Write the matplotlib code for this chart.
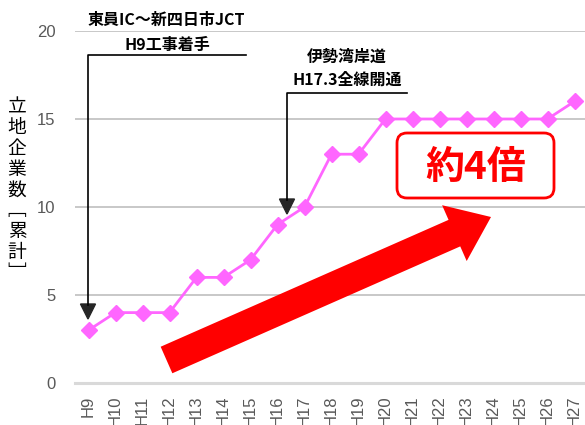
import matplotlib
matplotlib.use('Agg')
import matplotlib.pyplot as plt
from matplotlib.transforms import Affine2D
from matplotlib.patches import FancyArrow, FancyBboxPatch, Polygon

plt.rcParams['font.family'] = ['Liberation Sans', 'Noto Sans CJK JP', 'DejaVu Sans']

# data
years = ['H%d' % i for i in range(9, 28)]
firms = [3, 4, 4, 4, 6, 6, 7, 9, 10, 13, 13, 15, 15, 15, 15, 15, 15, 15, 16]
y_ticks = [0, 5, 10, 15, 20]

W, H = 585, 425
fig = plt.figure(figsize=(W / 100., H / 100.), dpi=100)
ax = fig.add_axes([75. / W, 1 - 383. / H, 513. / W, 352. / H])

# pixel coords with origin at top-left
tr = Affine2D().scale(1, -1).translate(0, H)

x = list(range(len(years)))
ax.plot(x, firms, color='#FF66FF', lw=2, marker='D', ms=8, zorder=3,
        clip_on=False)

ax.set_xlim(-0.5, len(years) - 0.5)
ax.set_ylim(0, 20)
ax.set_yticks(y_ticks)
ax.set_xticks(x)
ax.set_xticklabels(years, rotation=90)
ax.tick_params(axis='both', length=0, labelsize=12, labelcolor='#595959')
ax.tick_params(axis='y', pad=14)
ax.tick_params(axis='x', pad=9)
for s in ax.spines.values():
    s.set_visible(False)
for t in y_ticks[1:]:
    ax.axhline(t, color='#BFBFBF', lw=1.2, zorder=1)
ax.axhline(0, color='#D9D9D9', lw=2.2, zorder=1, clip_on=False)

# y label, stacked characters
fig.text(17, 190, '\n'.join('立地企業数﹇累計﹈'), transform=tr,
         ha='center', va='center', fontsize=13.5, linespacing=0.98,
         family=['Noto Sans CJK JP', 'DejaVu Sans'])

txt = dict(ha='center', va='center', fontsize=11.5, weight='bold',
           color='black', family=['Noto Sans CJK JP', 'DejaVu Sans'])

# annotation 1
fig.text(166, 20, '東員IC～新四日市JCT', transform=tr, **txt)
fig.text(167, 45, 'H9工事着手', transform=tr, **txt)
fig.add_artist(plt.Line2D([246, 88, 88], [55, 55, 305], color='black',
                          lw=1.2, transform=tr))
fig.add_artist(Polygon([[80.5, 304], [95.5, 304], [88, 319]], closed=True,
                       color='#262626', transform=tr))

# annotation 2
fig.text(347, 57, '伊勢湾岸道', transform=tr, **txt)
fig.text(347, 80, 'H17.3全線開通', transform=tr, **txt)
fig.add_artist(plt.Line2D([407, 287, 287], [93, 93, 200], color='black',
                          lw=1.2, transform=tr))
fig.add_artist(Polygon([[279.5, 199], [294.5, 199], [287, 214]], closed=True,
                       color='#262626', transform=tr))

# red growth arrow
fig.add_artist(FancyArrow(166.5, 360, 324.5, -143, width=29, head_width=61,
                          head_length=40, length_includes_head=True,
                          color='#FF0000', lw=0, transform=tr, zorder=4))

# ratio box
fig.add_artist(FancyBboxPatch((397, 133), 157, 65,
                              boxstyle='round,pad=0,rounding_size=10',
                              fc='white', ec='#FF0000', lw=2, transform=tr,
                              zorder=4))
fig.text(476, 168, '約4倍', transform=tr, ha='center', va='center',
         fontsize=28, weight='bold', color='#FF0000', zorder=5,
         family=['Noto Sans CJK JP', 'DejaVu Sans'])

fig.savefig('out.png', dpi=100)
